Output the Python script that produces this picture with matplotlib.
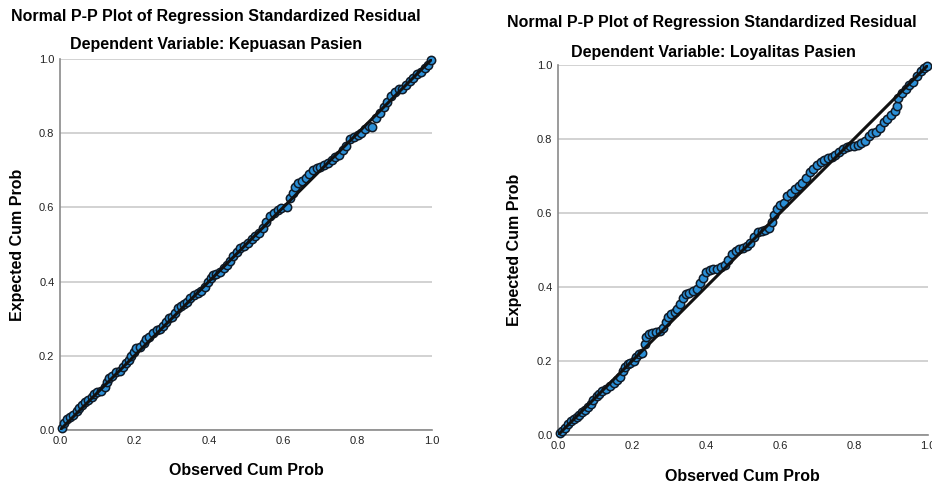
import numpy as np
import matplotlib
matplotlib.use('Agg')
from matplotlib import pyplot as plt

plt.rcParams['font.family'] = ['Liberation Sans', 'DejaVu Sans']

# P-P values (observed, expected)
kepuasan_obs = [0.005, 0.012, 0.02, 0.028, 0.035, 0.045, 0.052, 0.06, 0.068, 0.075,
                0.085, 0.092, 0.10, 0.11, 0.12, 0.125, 0.132, 0.14, 0.15, 0.16,
                0.17, 0.178, 0.185, 0.192, 0.20, 0.205, 0.215, 0.225, 0.232, 0.24,
                0.25, 0.26, 0.27, 0.278, 0.285, 0.292, 0.30, 0.31, 0.318, 0.325,
                0.332, 0.342, 0.35, 0.36, 0.37, 0.38, 0.39, 0.398, 0.405, 0.412,
                0.42, 0.43, 0.44, 0.45, 0.458, 0.465, 0.475, 0.485, 0.495, 0.505,
                0.515, 0.525, 0.535, 0.545, 0.555, 0.565, 0.575, 0.585, 0.595, 0.61,
                0.618, 0.625, 0.632, 0.64, 0.65, 0.66, 0.67, 0.68, 0.69, 0.70,
                0.71, 0.72, 0.73, 0.74, 0.75, 0.76, 0.77, 0.78, 0.79, 0.80,
                0.81, 0.82, 0.83, 0.84, 0.85, 0.86, 0.87, 0.88, 0.89, 0.90,
                0.91, 0.92, 0.93, 0.94, 0.95, 0.96, 0.97, 0.98, 0.99, 0.998]
kepuasan_exp = [0.005, 0.018, 0.03, 0.035, 0.04, 0.05, 0.058, 0.068, 0.075, 0.08,
                0.09, 0.098, 0.102, 0.105, 0.115, 0.13, 0.14, 0.145, 0.155, 0.16,
                0.17, 0.18, 0.19, 0.20, 0.21, 0.22, 0.225, 0.235, 0.245, 0.25,
                0.262, 0.27, 0.272, 0.28, 0.29, 0.302, 0.305, 0.315, 0.328, 0.335,
                0.34, 0.345, 0.355, 0.365, 0.37, 0.375, 0.385, 0.40, 0.41, 0.418,
                0.42, 0.425, 0.438, 0.445, 0.455, 0.47, 0.48, 0.49, 0.495, 0.505,
                0.515, 0.522, 0.53, 0.545, 0.56, 0.578, 0.585, 0.592, 0.598, 0.60,
                0.625, 0.64, 0.655, 0.665, 0.672, 0.68, 0.69, 0.70, 0.705, 0.71,
                0.715, 0.72, 0.728, 0.735, 0.742, 0.755, 0.765, 0.785, 0.79, 0.795,
                0.80, 0.81, 0.82, 0.818, 0.84, 0.855, 0.87, 0.885, 0.90, 0.912,
                0.918, 0.92, 0.93, 0.94, 0.948, 0.96, 0.965, 0.975, 0.985, 0.997]

loyalitas_obs = [0.005, 0.012, 0.02, 0.028, 0.035, 0.042, 0.05, 0.058, 0.065, 0.072,
                 0.08, 0.088, 0.095, 0.105, 0.112, 0.12, 0.13, 0.14, 0.15, 0.16,
                 0.168, 0.175, 0.18, 0.188, 0.195, 0.205, 0.212, 0.22, 0.228, 0.234,
                 0.238, 0.245, 0.255, 0.265, 0.275, 0.285, 0.292, 0.298, 0.305, 0.315,
                 0.322, 0.33, 0.338, 0.345, 0.355, 0.365, 0.375, 0.385, 0.392, 0.40,
                 0.41, 0.42, 0.43, 0.44, 0.45, 0.46, 0.47, 0.48, 0.49, 0.50,
                 0.51, 0.52, 0.53, 0.54, 0.55, 0.56, 0.57, 0.578, 0.585, 0.592,
                 0.60, 0.61, 0.62, 0.63, 0.64, 0.65, 0.66, 0.67, 0.68, 0.69,
                 0.70, 0.71, 0.72, 0.73, 0.74, 0.75, 0.76, 0.77, 0.78, 0.79,
                 0.80, 0.81, 0.82, 0.83, 0.84, 0.85, 0.86, 0.87, 0.88, 0.89,
                 0.90, 0.91, 0.915, 0.92, 0.93, 0.94, 0.95, 0.96, 0.97, 0.98,
                 0.99, 0.998]
loyalitas_exp = [0.005, 0.012, 0.02, 0.03, 0.038, 0.042, 0.048, 0.055, 0.062, 0.068,
                 0.075, 0.085, 0.095, 0.105, 0.11, 0.118, 0.125, 0.132, 0.14, 0.15,
                 0.158, 0.172, 0.185, 0.192, 0.195, 0.20, 0.21, 0.218, 0.222, 0.245,
                 0.265, 0.272, 0.275, 0.278, 0.282, 0.29, 0.305, 0.32, 0.328, 0.332,
                 0.34, 0.355, 0.37, 0.38, 0.385, 0.388, 0.395, 0.41, 0.425, 0.44,
                 0.447, 0.448, 0.45, 0.455, 0.46, 0.472, 0.488, 0.498, 0.502, 0.505,
                 0.51, 0.52, 0.535, 0.548, 0.552, 0.553, 0.56, 0.575, 0.595, 0.612,
                 0.622, 0.628, 0.645, 0.655, 0.665, 0.672, 0.68, 0.695, 0.71, 0.72,
                 0.73, 0.738, 0.742, 0.748, 0.752, 0.758, 0.765, 0.772, 0.778, 0.78,
                 0.782, 0.785, 0.79, 0.795, 0.808, 0.815, 0.82, 0.83, 0.845, 0.855,
                 0.865, 0.875, 0.89, 0.91, 0.925, 0.935, 0.945, 0.955, 0.97, 0.985,
                 0.992, 0.996]

ticks = [0.0, 0.2, 0.4, 0.6, 0.8, 1.0]
tick_labels = ['0.0', '0.2', '0.4', '0.6', '0.8', '1.0']

fig = plt.figure(figsize=(9.32, 4.86), dpi=100)
W, H = 932.0, 486.0
TITLE_SIZE = 11.5


def pp_panel(box, obs, exp):
    ax = fig.add_axes(box)
    ax.set_xlim(0, 1)
    ax.set_ylim(0, 1)
    ax.set_xticks(ticks)
    ax.set_yticks(ticks)
    ax.set_xticklabels(tick_labels)
    ax.set_yticklabels(tick_labels)
    ax.tick_params(length=0, labelsize=8, colors='#222222', pad=4)
    ax.grid(axis='y', color='#cfcfcf', linewidth=1.3)
    ax.set_axisbelow(True)
    for side in ['top', 'right']:
        ax.spines[side].set_visible(False)
    for side in ['left', 'bottom']:
        ax.spines[side].set_color('#8a8a8a')
        ax.spines[side].set_linewidth(1.2)
    ax.scatter(obs, exp, s=36, color='#2b8fd6', edgecolors='#101a26',
               linewidths=1.1, zorder=3, clip_on=False)
    ax.plot([0, 1], [0, 1], color='#111111', linewidth=2.2, zorder=4)
    return ax


# left panel
pp_panel([60 / W, 1 - 430 / H, 372 / W, 371 / H], kepuasan_obs, kepuasan_exp)
fig.text(216 / W, 1 - 16 / H, 'Normal P-P Plot of Regression Standardized Residual',
         ha='center', va='center', fontsize=TITLE_SIZE, fontweight='bold')
fig.text(216 / W, 1 - 45 / H, 'Dependent Variable: Kepuasan Pasien',
         ha='center', va='center', fontsize=TITLE_SIZE, fontweight='bold')
fig.text(18 / W, 1 - 245 / H, 'Expected Cum Prob', rotation=90,
         ha='center', va='center', fontsize=TITLE_SIZE, fontweight='bold')
fig.text(246 / W, 1 - 470 / H, 'Observed Cum Prob',
         ha='center', va='center', fontsize=TITLE_SIZE, fontweight='bold')

# right panel
pp_panel([558 / W, 1 - 435 / H, 370 / W, 370 / H], loyalitas_obs, loyalitas_exp)
fig.text(712 / W, 1 - 22 / H, 'Normal P-P Plot of Regression Standardized Residual',
         ha='center', va='center', fontsize=TITLE_SIZE, fontweight='bold')
fig.text(713 / W, 1 - 52 / H, 'Dependent Variable: Loyalitas Pasien',
         ha='center', va='center', fontsize=TITLE_SIZE, fontweight='bold')
fig.text(515 / W, 1 - 250 / H, 'Expected Cum Prob', rotation=90,
         ha='center', va='center', fontsize=TITLE_SIZE, fontweight='bold')
fig.text(742 / W, 1 - 476 / H, 'Observed Cum Prob',
         ha='center', va='center', fontsize=TITLE_SIZE, fontweight='bold')

fig.savefig('out.png', dpi=100)
